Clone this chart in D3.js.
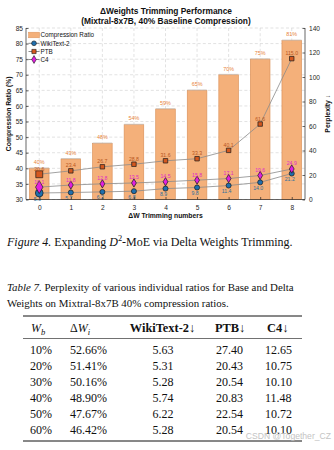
<!DOCTYPE html>
<html>
<head>
<meta charset="utf-8">
<script src="https://cdn.jsdelivr.net/npm/d3@7"></script>
<style>
  body { margin: 0; background: #fff; }
  svg { display: block; }
</style>
</head>
<body>
<div id="chart"></div>
<script>
// chart data
var trimNumbers = [0, 1, 2, 3, 4, 5, 6, 7, 8]
var compressionRatio = [40, 43, 48, 54, 59, 65, 70, 75, 81]
var wikiText2 = [5.3, 5.7, 6.2, 6.8, 8.9, 9.8, 11.4, 14.0, 21.2]
var ptb = [20.6, 23.4, 26.7, 28.8, 31.6, 33.3, 40.1, 61.6, 115.0]
var c4 = [10.1, 11.8, 12.8, 13.5, 14.5, 15.8, 17.1, 19.6, 24.9]
var leftTicks = [30, 35, 40, 45, 50, 55, 60, 65, 70, 75, 80, 85]
var rightTicks = [0, 20, 40, 60, 80, 100, 120, 140]

// table data
var tableHeader = ["Wb", "ΔWi", "WikiText-2↓", "PTB↓", "C4↓"]
var baseRatios = ["10%", "20%", "30%", "40%", "50%", "60%"]
var deltaRatios = ["52.66%", "51.41%", "50.16%", "48.90%", "47.67%", "46.42%"]
var wikiPpl = ["5.63", "5.31", "5.28", "5.74", "6.22", "5.28"]
var ptbPpl = ["27.40", "20.43", "20.54", "20.83", "22.54", "20.54"]
var c4Ppl = ["12.65", "10.75", "10.10", "11.48", "10.72", "10.10"]

var sans = "'Liberation Sans', Arial, sans-serif"
var serif = "'Liberation Serif', 'Times New Roman', serif"

var svg = d3.select("#chart").append("svg")
    .attr("width", 334)
    .attr("height", 450)

svg.append("rect").attr("width", 334).attr("height", 450).attr("fill", "#fff")

var plot = { left: 26, right: 305, top: 28, bottom: 199.5 }

var x = d3.scaleLinear().domain([-0.42, 8.42]).range([plot.left, plot.right])
var yLeft = d3.scaleLinear().domain([30, 85]).range([plot.bottom, plot.top])
var yRight = d3.scaleLinear().domain([0, 140]).range([plot.bottom, plot.top])

var barWidth = x(0.62) - x(0)

var series = [
    { name: "WikiText-2", values: wikiText2, symbol: d3.symbolCircle, fill: "#1f6fae", labelColor: "#2f6f9c", labelDy: 7.5, labelDx: -2 },
    { name: "PTB", values: ptb, symbol: d3.symbolSquare, fill: "#d4581f", labelColor: "#b8561e", labelDy: -3.5, labelDx: 0 },
    { name: "C4", values: c4, symbol: d3.symbolDiamond, fill: "#e21fe0", labelColor: "#e02cc8", labelDy: -3.5, labelDx: 0 }
]

function drawGrid(container) {
    var grid = container.append("g").attr("class", "grid")
        .attr("stroke", "#cfcfcf")
        .attr("stroke-width", 0.6)
        .attr("stroke-dasharray", "3,2.2")
    grid.selectAll("line.h").data(leftTicks).enter().append("line")
        .attr("x1", plot.left).attr("x2", plot.right)
        .attr("y1", function (d) { return yLeft(d) }).attr("y2", function (d) { return yLeft(d) })
    grid.selectAll("line.v").data(trimNumbers).enter().append("line")
        .attr("y1", plot.top).attr("y2", plot.bottom)
        .attr("x1", function (d) { return x(d) }).attr("x2", function (d) { return x(d) })
}

function drawBars(container) {
    var bars = container.append("g").attr("class", "bars")
    bars.selectAll("rect").data(compressionRatio).enter().append("rect")
        .attr("x", function (d, i) { return x(trimNumbers[i]) - barWidth / 2 })
        .attr("y", function (d) { return yLeft(d) })
        .attr("width", barWidth)
        .attr("height", function (d) { return plot.bottom - yLeft(d) })
        .attr("fill", "#f4b07a")
        .attr("stroke", "#dc935c")
        .attr("stroke-width", 0.7)
    bars.selectAll("line.top").data(compressionRatio).enter().append("line")
        .attr("x1", function (d, i) { return x(trimNumbers[i]) - barWidth / 2 })
        .attr("x2", function (d, i) { return x(trimNumbers[i]) + barWidth / 2 })
        .attr("y1", function (d) { return yLeft(d) - 0.4 })
        .attr("y2", function (d) { return yLeft(d) - 0.4 })
        .attr("stroke", "#c9c3bd")
        .attr("stroke-width", 0.8)
    bars.selectAll("text").data(compressionRatio).enter().append("text")
        .attr("x", function (d, i) { return x(trimNumbers[i]) })
        .attr("y", function (d) { return yLeft(d) - 4.2 })
        .attr("text-anchor", "middle")
        .attr("font-family", sans)
        .attr("font-size", 5.4)
        .attr("fill", "#e8843a")
        .text(function (d) { return d + "%" })
}

function markerSize(i) {
    return i === 0 ? 48 : 20
}

function drawSeries(container, s) {
    var g = container.append("g").attr("class", "series")
    var line = d3.line()
        .x(function (d, i) { return x(trimNumbers[i]) })
        .y(function (d) { return yRight(d) })
    g.append("path").datum(s.values)
        .attr("d", line)
        .attr("fill", "none")
        .attr("stroke", "#8a8a8a")
        .attr("stroke-width", 0.8)
    g.selectAll("path.marker").data(s.values).enter().append("path")
        .attr("class", "marker")
        .attr("transform", function (d, i) { return "translate(" + x(trimNumbers[i]) + "," + yRight(d) + ")" })
        .attr("d", function (d, i) { return d3.symbol().type(s.symbol).size(markerSize(i))() })
        .attr("fill", s.fill)
        .attr("stroke", "#1a1a1a")
        .attr("stroke-width", 0.7)
    g.selectAll("text").data(s.values).enter().append("text")
        .attr("x", function (d, i) { return x(trimNumbers[i]) + s.labelDx })
        .attr("y", function (d) { return yRight(d) + s.labelDy })
        .attr("text-anchor", "middle")
        .attr("font-family", sans)
        .attr("font-size", 5.2)
        .attr("fill", s.labelColor)
        .text(function (d) { return d.toFixed(1) })
}

function drawAxes(container) {
    var left = container.append("g")
        .attr("transform", "translate(" + plot.left + ",0)")
        .call(d3.axisRight(yLeft).tickValues(leftTicks).tickSize(2.5))
    var right = container.append("g")
        .attr("transform", "translate(" + plot.right + ",0)")
        .call(d3.axisLeft(yRight).tickValues(rightTicks).tickSize(2.5))
    var bottom = container.append("g")
        .attr("transform", "translate(0," + plot.bottom + ")")
        .call(d3.axisTop(x).tickValues(trimNumbers).tickSize(2.5))
    bottom.select(".domain").attr("d", "M" + plot.left + ",0H" + plot.right)
    left.select(".domain").attr("d", "M0," + plot.bottom + "V" + plot.top)
    right.select(".domain").attr("d", "M0," + plot.bottom + "V" + plot.top)
    ;[left, right, bottom].forEach(function (a) {
        a.selectAll(".domain").attr("stroke", "#262626").attr("stroke-width", 0.7)
        a.selectAll(".tick line").attr("stroke", "#262626").attr("stroke-width", 0.7)
        a.selectAll("text").attr("font-family", sans).attr("font-size", 6.6).attr("fill", "#262626")
    })
    left.selectAll("text").attr("text-anchor", "end").attr("x", -3)
    right.selectAll("text").attr("text-anchor", "start").attr("x", 4)
    bottom.selectAll("text").attr("y", 6).attr("dy", "0.71em")
}

function drawLabels(container) {
    container.append("text")
        .attr("x", 166).attr("y", 14)
        .attr("text-anchor", "middle")
        .attr("font-family", sans).attr("font-weight", "bold").attr("font-size", 8.4)
        .attr("fill", "#111")
        .text("ΔWeights Trimming Performance")
    container.append("text")
        .attr("x", 166).attr("y", 24.3)
        .attr("text-anchor", "middle")
        .attr("font-family", sans).attr("font-weight", "bold").attr("font-size", 8.4)
        .attr("fill", "#111")
        .text("(Mixtral-8x7B, 40% Baseline Compression)")
    container.append("text")
        .attr("transform", "translate(10.5," + (plot.top + plot.bottom) / 2 + ") rotate(-90)")
        .attr("text-anchor", "middle")
        .attr("font-family", sans).attr("font-weight", "bold").attr("font-size", 6.8)
        .attr("fill", "#111")
        .text("Compression Ratio (%)")
    container.append("text")
        .attr("transform", "translate(329.5," + (plot.top + plot.bottom) / 2 + ") rotate(-90)")
        .attr("text-anchor", "middle")
        .attr("font-family", sans).attr("font-weight", "bold").attr("font-size", 6.8)
        .attr("fill", "#111")
        .text("Perplexity ↓")
    container.append("text")
        .attr("x", x(4)).attr("y", 217.5)
        .attr("text-anchor", "middle")
        .attr("font-family", sans).attr("font-weight", "bold").attr("font-size", 6.8)
        .attr("fill", "#111")
        .text("ΔW Trimming numbers")
}

function drawLegend(container) {
    var legend = container.append("g").attr("class", "legend")
    var rowY = [35, 43.3, 51.5, 59.5]
    legend.append("rect")
        .attr("x", 28.5).attr("y", rowY[0] - 2.8)
        .attr("width", 11).attr("height", 5.6)
        .attr("fill", "#f4b07a").attr("stroke", "#dc935c").attr("stroke-width", 0.5)
    legend.append("text")
        .attr("x", 40.5).attr("y", rowY[0] + 2.2)
        .attr("font-family", sans).attr("font-size", 6.3).attr("fill", "#111")
        .text("Compression Ratio")
    series.forEach(function (s, k) {
        var y = rowY[k + 1]
        legend.append("line")
            .attr("x1", 28.5).attr("x2", 39.5).attr("y1", y).attr("y2", y)
            .attr("stroke", "#6a6a6a").attr("stroke-width", 0.8)
        legend.append("path")
            .attr("transform", "translate(34," + y + ")")
            .attr("d", d3.symbol().type(s.symbol).size(18)())
            .attr("fill", s.fill).attr("stroke", "#1a1a1a").attr("stroke-width", 0.6)
        legend.append("text")
            .attr("x", 40.5).attr("y", y + 2.2)
            .attr("font-family", sans).attr("font-size", 6.3).attr("fill", "#111")
            .text(s.name)
    })
}

drawGrid(svg)
drawBars(svg)
series.forEach(function (s) { drawSeries(svg, s) })
drawAxes(svg)
drawLabels(svg)
drawLegend(svg)

// figure caption
var caption = svg.append("text")
    .attr("x", 7).attr("y", 245.5)
    .attr("font-family", serif).attr("font-size", 12).attr("fill", "#111")
caption.append("tspan").attr("font-style", "italic").text("Figure 4.")
caption.append("tspan").text(" Expanding ")
caption.append("tspan").attr("font-style", "italic").text("D")
caption.append("tspan").attr("font-size", 8.4).attr("dy", -4.5).text("2")
caption.append("tspan").attr("dy", 4.5).text("-MoE via Delta Weights Trimming.")

// table caption
var tcap1 = svg.append("text")
    .attr("x", 7).attr("y", 291)
    .attr("font-family", serif).attr("font-size", 10.9).attr("fill", "#111")
tcap1.append("tspan").attr("font-style", "italic").text("Table 7.")
tcap1.append("tspan").text(" Perplexity of various individual ratios for Base and Delta")
svg.append("text")
    .attr("x", 7).attr("y", 307)
    .attr("font-family", serif).attr("font-size", 10.9).attr("fill", "#111")
    .text("Weights on Mixtral-8x7B 40% compression ratios.")

// table
var table = svg.append("g").attr("font-family", serif).attr("fill", "#111")
var tableFont = 12
var ruleX1 = 23, ruleX2 = 302
table.append("line").attr("x1", ruleX1).attr("x2", ruleX2).attr("y1", 316).attr("y2", 316)
    .attr("stroke", "#111").attr("stroke-width", 1)
table.append("line").attr("x1", ruleX1).attr("x2", ruleX2).attr("y1", 338.5).attr("y2", 338.5)
    .attr("stroke", "#111").attr("stroke-width", 0.6)
table.append("line").attr("x1", ruleX1).attr("x2", ruleX2).attr("y1", 441).attr("y2", 441)
    .attr("stroke", "#111").attr("stroke-width", 1)

var headerY = 332
var h0 = table.append("text").attr("x", 31).attr("y", headerY).attr("font-size", tableFont)
h0.append("tspan").attr("font-style", "italic").text(tableHeader[0].charAt(0))
h0.append("tspan").attr("font-style", "italic").attr("font-size", 8.5).attr("dy", 2.5).text(tableHeader[0].charAt(1))
var h1 = table.append("text").attr("x", 70).attr("y", headerY).attr("font-size", tableFont)
h1.append("tspan").text(tableHeader[1].charAt(0))
h1.append("tspan").attr("font-style", "italic").text(tableHeader[1].charAt(1))
h1.append("tspan").attr("font-style", "italic").attr("font-size", 8.5).attr("dy", 2.5).text(tableHeader[1].charAt(2))
table.append("text").attr("x", 162.5).attr("y", headerY).attr("text-anchor", "middle")
    .attr("font-size", 12.4).attr("font-weight", "bold").text(tableHeader[2])
table.append("text").attr("x", 215).attr("y", headerY)
    .attr("font-size", 12.4).attr("font-weight", "bold").text(tableHeader[3])
table.append("text").attr("x", 267).attr("y", headerY)
    .attr("font-size", 12.4).attr("font-weight", "bold").text(tableHeader[4])

var rowY = d3.scaleLinear().domain([0, 5]).range([354, 433.5])
var columns = [
    { values: baseRatios, x: 30, anchor: "start" },
    { values: deltaRatios, x: 70, anchor: "start" },
    { values: wikiPpl, x: 163, anchor: "middle" },
    { values: ptbPpl, x: 216, anchor: "start" },
    { values: c4Ppl, x: 265, anchor: "start" }
]
columns.forEach(function (col) {
    table.selectAll(null).data(col.values).enter().append("text")
        .attr("x", col.x)
        .attr("y", function (d, i) { return rowY(i) })
        .attr("text-anchor", col.anchor)
        .attr("font-size", tableFont)
        .text(function (d) { return d })
})

// watermark
svg.append("text")
    .attr("x", 331).attr("y", 439)
    .attr("text-anchor", "end")
    .attr("font-family", sans).attr("font-size", 8.6)
    .attr("fill", "#c4c4c4")
    .text("CSDN @Together_CZ")
</script>
</body>
</html>
